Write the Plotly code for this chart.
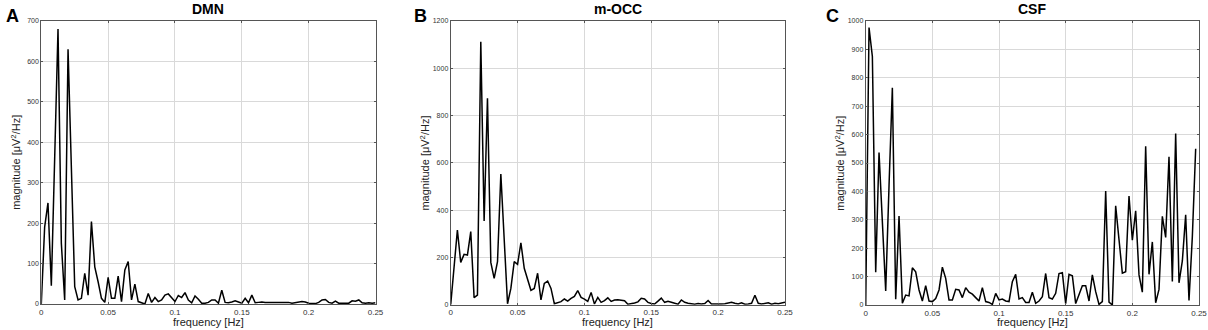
import numpy as np
import plotly.graph_objects as go
from plotly.subplots import make_subplots

# frequency bins (Hz), spacing of the spectrum
df_hz = 0.0025

# magnitude [uV^2/Hz] per region
dmn = [0, 190, 250, 45, 360, 680, 150, 10, 630, 330,
       43, 10, 14, 76, 22, 204, 92, 55, 14, 4,
       66, 14, 14, 69, 6, 84, 105, 10, 49, 6,
       2, 0, 26, 4, 16, 6, 10, 22, 25, 14,
       6, 21, 16, 28, 10, 3, 20, 12, 2, 2,
       4, 10, 10, 2, 34, 4, 3, 5, 8, 5,
       2, 14, 3, 22, 3, 4, 5, 4, 4, 3,
       3, 4, 3, 4, 4, 2, 3, 4, 6, 5,
       2, 1, 1, 4, 10, 11, 4, 2, 7, 2,
       2, 1, 2, 8, 7, 10, 3, 2, 3, 2, 3]

mocc = [0, 150, 316, 179, 213, 210, 309, 30, 41, 1112,
        354, 873, 179, 111, 182, 553, 250, 4, 69, 182,
        171, 262, 154, 105, 61, 69, 133, 20, 90, 100,
        69, 4, 10, 13, 24, 15, 27, 35, 60, 31,
        24, 14, 52, 3, 31, 10, 17, 29, 14, 20,
        21, 18, 17, 2, 4, 7, 12, 27, 24, 10,
        5, 3, 15, 28, 10, 14, 10, 6, 2, 20,
        10, 6, 3, 2, 5, 3, 5, 18, 3, 2,
        2, 3, 4, 6, 10, 6, 3, 8, 2, 3,
        6, 40, 6, 3, 5, 8, 2, 6, 4, 8, 10]

csf = [0, 977, 875, 115, 537, 280, 49, 420, 765, 20,
       313, 6, 35, 32, 131, 117, 53, 14, 68, 14,
       12, 23, 53, 133, 94, 18, 18, 55, 53, 26,
       61, 45, 38, 26, 14, 61, 12, 9, 2, 41,
       18, 21, 14, 12, 82, 108, 21, 26, 9, 9,
       45, 6, 14, 29, 111, 26, 21, 41, 111, 114,
       5, 108, 103, 5, 38, 68, 68, 14, 106, 47,
       2, 12, 401, 10, 0, 349, 230, 112, 117, 384,
       228, 332, 106, 45, 559, 108, 222, 8, 55, 312,
       238, 522, 83, 604, 78, 155, 318, 16, 240, 550]

titles = ["DMN", "m-OCC", "CSF"]
letters = ["A", "B", "C"]
y_max = [700, 1200, 1000]
y_step = [100, 200, 100]
x_ticks = [0, 0.05, 0.1, 0.15, 0.2, 0.25]
x_tick_text = ["0", "0.05", "0.1", "0.15", "0.2", "0.25"]

W, H = 1208, 330
# plot boxes in pixels: (left, right, top, bottom)
boxes = [(41.3, 375.5, 21, 304), (450.7, 785, 21, 304.7), (865.7, 1199, 21, 305)]
letter_x = [12, 420, 832]

FONT = "Liberation Sans, Arial, Helvetica, sans-serif"

fig = make_subplots(rows=1, cols=3)

for k, vals in enumerate([dmn, mocc, csf]):
    freq = np.arange(len(vals)) * df_hz
    fig.add_trace(go.Scatter(
        x=freq, y=vals, mode="lines",
        line=dict(color="black", width=1.5),
        showlegend=False, hoverinfo="skip"
    ), row=1, col=k + 1)

    l, r, t, b = boxes[k]
    xa = "xaxis" if k == 0 else f"xaxis{k + 1}"
    ya = "yaxis" if k == 0 else f"yaxis{k + 1}"
    fig.layout[xa].update(
        domain=[l / W, r / W], range=[0, 0.25], automargin=False,
        tickvals=x_ticks, ticktext=x_tick_text,
        showgrid=True, gridcolor="#d9d9d9", gridwidth=1,
        zeroline=False, showline=True, linecolor="#555555", linewidth=1,
        mirror="ticks", ticks="inside", ticklen=2, tickcolor="#555555",
        tickfont=dict(family=FONT, size=8, color="#333333"),
    )
    fig.layout[ya].update(
        domain=[(H - b) / H, (H - t) / H], range=[0, y_max[k]], automargin=False,
        dtick=y_step[k], tick0=0, tickformat="d",
        showgrid=True, gridcolor="#d9d9d9", gridwidth=1,
        zeroline=False, showline=True, linecolor="#555555", linewidth=1,
        mirror="ticks", ticks="inside", ticklen=2, tickcolor="#555555",
        tickfont=dict(family=FONT, size=7, color="#333333"),
    )

    cx = (l + r) / 2 / W
    # panel title
    fig.add_annotation(x=cx, y=(H - 9) / H, xref="paper", yref="paper",
                       text=f"<b>{titles[k]}</b>", showarrow=False,
                       font=dict(family=FONT, size=14, color="black"),
                       xanchor="center", yanchor="middle")
    # panel letter
    fig.add_annotation(x=letter_x[k] / W, y=(H - 16) / H, xref="paper", yref="paper",
                       text=f"<b>{letters[k]}</b>", showarrow=False,
                       font=dict(family=FONT, size=18, color="black"),
                       xanchor="center", yanchor="middle")
    # x title
    fig.add_annotation(x=cx, y=(H - 322) / H, xref="paper", yref="paper",
                       text="frequency [Hz]", showarrow=False,
                       font=dict(family=FONT, size=11, color="#222222"),
                       xanchor="center", yanchor="middle")
    # y title
    fig.add_annotation(x=(l - 26) / W, y=(H - (t + b) / 2) / H, xref="paper", yref="paper",
                       text="magnitude [μV<sup>2</sup>/Hz]", showarrow=False, textangle=-90,
                       font=dict(family=FONT, size=11, color="#222222"),
                       xanchor="center", yanchor="middle")

fig.update_layout(
    width=W, height=H,
    margin=dict(l=0, r=0, t=0, b=0),
    paper_bgcolor="white", plot_bgcolor="white",
    font=dict(family=FONT),
)

# the page body has a default 8px margin; drop it so the figure fills the window
fig.write_html("out.html", config={"displayModeBar": False},
               post_script="document.body.style.margin='0';")
